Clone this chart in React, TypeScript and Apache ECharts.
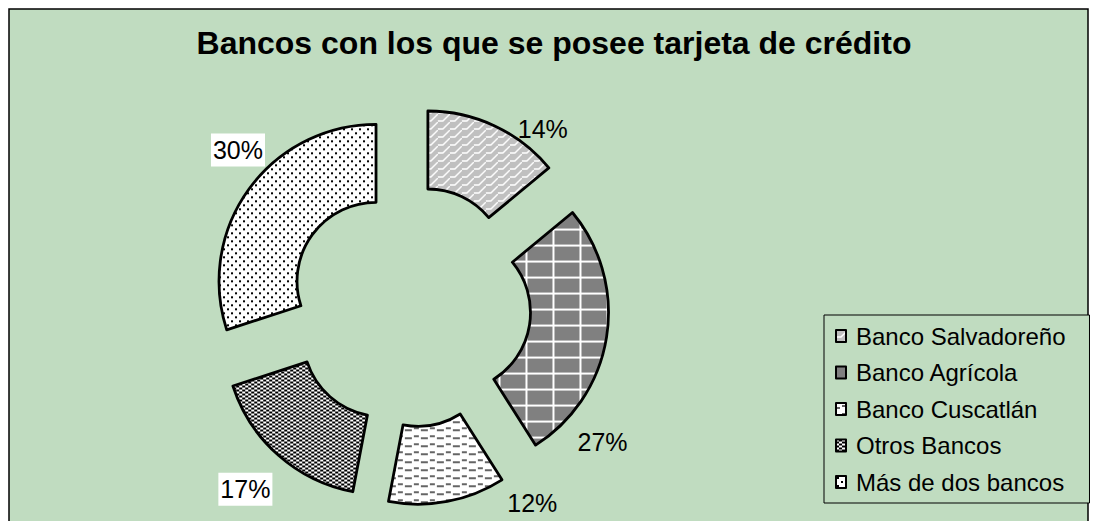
import React, { useEffect, useRef } from 'react';
import * as echarts from 'echarts';

const TITLE = 'Bancos con los que se posee tarjeta de crédito';
const categories = ['Banco Salvadoreño', 'Banco Agrícola', 'Banco Cuscatlán', 'Otros Bancos', 'Más de dos bancos'];
const values = [14, 27, 12, 17, 30];
// which percentage labels sit on a white box in the original
const labelBoxed = [false, false, false, true, true];
// nudges (px) from ECharts' own outside-label anchor to where Excel put each label
const labelNudge: [number, number][] = [[23, 3], [-29, 105], [60, 2], [-6, 34], [16, -39]];

const FONT = '"Liberation Sans", Arial, Helvetica, sans-serif';
const GREEN = '#C0DCC0';

type Draw = (ctx: CanvasRenderingContext2D, w: number, h: number) => void;
function makePattern(w: number, h: number, bg: string, draw: Draw) {
  const c = document.createElement('canvas');
  c.width = w;
  c.height = h;
  const ctx = c.getContext('2d') as CanvasRenderingContext2D;
  ctx.fillStyle = bg;
  ctx.fillRect(0, 0, w, h);
  draw(ctx, w, h);
  return { image: c, repeat: 'repeat', imageWidth: w, imageHeight: h } as any;
}

function buildPatterns() {
  const salv = makePattern(12, 8, '#C0C0C0', (ctx) => {
    ctx.strokeStyle = '#FFFFFF';
    ctx.lineWidth = 1.4;
    ctx.beginPath();
    ctx.moveTo(0, 7);
    ctx.lineTo(5, 7);
    ctx.lineTo(12, 0);
    ctx.stroke();
  });
  const agri = makePattern(27, 16, '#808080', (ctx) => {
    ctx.fillStyle = '#FFFFFF';
    ctx.fillRect(0, 14, 27, 2);
    ctx.fillRect(25, 0, 2, 16);
  });
  const cusc = makePattern(16, 8, '#FFFFFF', (ctx) => {
    ctx.strokeStyle = '#333333';
    ctx.lineWidth = 1.5;
    ctx.beginPath();
    ctx.moveTo(0, 5); ctx.lineTo(4, 5);
    ctx.moveTo(6, 3); ctx.lineTo(11, 3);
    ctx.moveTo(13, 5); ctx.lineTo(16, 5);
    ctx.stroke();
  });
  const otros = makePattern(6, 4, '#000000', (ctx) => {
    ctx.fillStyle = '#FFFFFF';
    ctx.fillRect(0, 0, 3, 2);
    ctx.fillRect(3, 2, 3, 2);
  });
  const mas = makePattern(8, 8, '#FFFFFF', (ctx) => {
    ctx.fillStyle = '#000000';
    ctx.fillRect(1, 1, 2, 2);
    ctx.fillRect(5, 5, 2, 2);
  });
  return [salv, agri, cusc, otros, mas];
}

export default function App() {
  const ref = useRef<HTMLDivElement>(null);

  useEffect(() => {
    if (!ref.current) return;
    const chart = echarts.init(ref.current, null, { renderer: 'svg' });
    const patterns = buildPatterns();

    const data = categories.map((name, i) => ({
      name,
      value: values[i],
      selected: true,
      itemStyle: { color: patterns[i] },
      label: labelBoxed[i]
        ? { backgroundColor: '#FFFFFF', padding: [4, 2, 4, 2] }
        : {},
    }));

    chart.setOption({
      animation: false,
      backgroundColor: '#FFFFFF',
      graphic: [
        {
          type: 'rect',
          z: -10,
          shape: { x: 9, y: 9, width: 1079, height: 540 },
          style: { fill: GREEN, stroke: '#000000', lineWidth: 1.5 },
          silent: true,
        },
      ],
      title: {
        text: TITLE,
        left: 549,
        top: 22,
        textAlign: 'center',
        textStyle: { fontFamily: FONT, fontSize: 32, fontWeight: 'bold', color: '#000000' },
      },
      legend: {
        orient: 'vertical',
        left: 824,
        top: 315,
        data: categories,
        icon: 'rect',
        itemWidth: 10,
        itemHeight: 12,
        itemGap: 12.5,
        padding: [9, 24, 9, 11],
        backgroundColor: GREEN,
        borderColor: '#000000',
        borderWidth: 1,
        selectedMode: false,
        itemStyle: { borderColor: '#000000', borderWidth: 2 },
        textStyle: { fontFamily: FONT, fontSize: 24, color: '#000000', padding: [0, 0, 0, 5] },
      },
      series: [
        {
          type: 'pie',
          center: [410, 306],
          radius: [79, 157],
          startAngle: 90,
          clockwise: true,
          selectedMode: 'multiple',
          selectedOffset: 42,
          avoidLabelOverlap: false,
          percentPrecision: 0,
          itemStyle: { borderColor: '#000000', borderWidth: 2.8 },
          select: { itemStyle: { borderColor: '#000000', borderWidth: 2.8 } },
          emphasis: { disabled: true },
          label: {
            show: true,
            position: 'outside',
            formatter: '{d}%',
            fontFamily: FONT,
            fontSize: 25,
            color: '#000000',
            distanceToLabelLine: 0,
          },
          labelLine: { show: false, length: 0, length2: 0 },
          labelLayout: (params: any) => ({
            dx: labelNudge[params.dataIndex][0],
            dy: labelNudge[params.dataIndex][1],
          }),
          data,
        },
      ],
    });

    return () => {
      chart.dispose();
    };
  }, []);

  return (
    <div
      ref={ref}
      style={{ position: 'absolute', left: 0, top: 0, width: 1094, height: 521 }}
    />
  );
}
